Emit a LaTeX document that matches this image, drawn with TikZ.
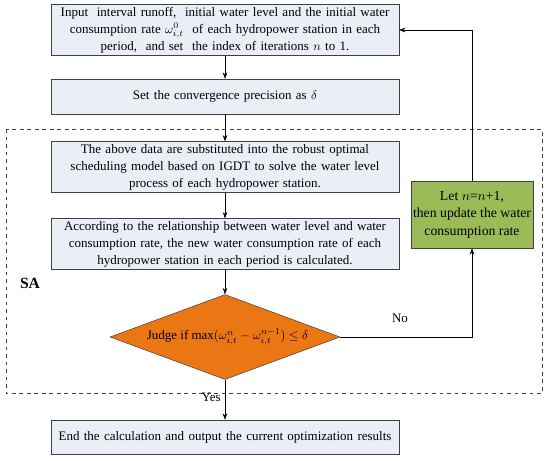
\documentclass[tikz,border=0pt]{standalone}
\usepackage{fontspec}
\setmainfont{Liberation Serif}
\usetikzlibrary{shapes.geometric,arrows.meta}
\definecolor{boxfill}{RGB}{234,239,247}
\definecolor{boxline}{RGB}{64,64,64}
\definecolor{updgreen}{RGB}{155,187,89}
\definecolor{judgeorange}{RGB}{234,118,20}
\tikzset{
    procbox/.style={draw=boxline,fill=boxfill,minimum width=278pt,text width=270pt,
        align=center,font=\fontsize{10.4}{13.6}\selectfont,inner sep=2pt},
    flow/.style={->,>={Stealth[length=5pt,width=3.6pt]}}
}
\begin{document}
\begin{tikzpicture}[x=0.8pt,y=-0.8pt]
    \useasboundingbox (0,0) rectangle (550,460);
    %% main column
    \node[procbox,minimum height=40pt] (input) at (225,30)
        {Input\ \ interval runoff,\ \ initial water level and the initial water\\
         consumption rate $\omega_{i,t}^{0}$\ \ of each hydropower station in each\\
         period,\ \ and set\ \ the index of iterations $n$ to 1.};
    \node[procbox,minimum height=28pt] (conv) at (225,96.5)
        {Set the convergence precision as $\delta$};
    \node[procbox,minimum height=38.4pt] (subs) at (225,167)
        {The above data are substituted into the robust optimal\\
         scheduling model based on IGDT to solve the water level\\
         process of each hydropower station.};
    \node[procbox,minimum height=40pt] (relat) at (225,244)
        {According to the relationship between water level and water\\
         consumption rate, the new water consumption rate of each\\
         hydropower station in each period is calculated.};
    \node[diamond,draw=boxline,fill=judgeorange,aspect=2.7,inner sep=0pt,
        minimum width=184pt,minimum height=68pt,font=\fontsize{10.4}{12}\selectfont] (judge) at (225,337)
        {\hspace*{4pt}Judge if $\max(\omega_{i,t}^{n}-\omega_{i,t}^{n-1})\leq\delta$};
    \node[procbox,minimum height=27.2pt] (result) at (225,437)
        {End the calculation and output the current optimization results};
    %% update box
    \node[draw=boxline,fill=updgreen,minimum width=97.6pt,minimum height=53.6pt,
        align=center,inner sep=1pt,font=\fontsize{11}{14}\selectfont] (update) at (472,214.5)
        {Let $n$=$n$+1,\\ then update the water\\ consumption rate};
    %% SA region
    \draw[dashed,boxline] (6,129) rectangle (542,393);
    \node[font=\fontsize{12.5}{14}\selectfont\bfseries] (sa) at (30,283) {SA};
    %% connectors
    \draw[flow] (input) -- (conv);
    \draw[flow] (conv) -- (subs);
    \draw[flow] (subs) -- (relat);
    \draw[flow] (relat) -- (judge);
    \draw[flow] (judge) -- node[left,pos=0.45,font=\fontsize{10.4}{12}\selectfont] {Yes} (result);
    \draw[flow] (judge.east) -| (update.south);
    \draw[flow] (update.north) |- (input.east);
    \node[font=\fontsize{10.4}{12}\selectfont] (no) at (400,318) {No};
\end{tikzpicture}
\end{document}
